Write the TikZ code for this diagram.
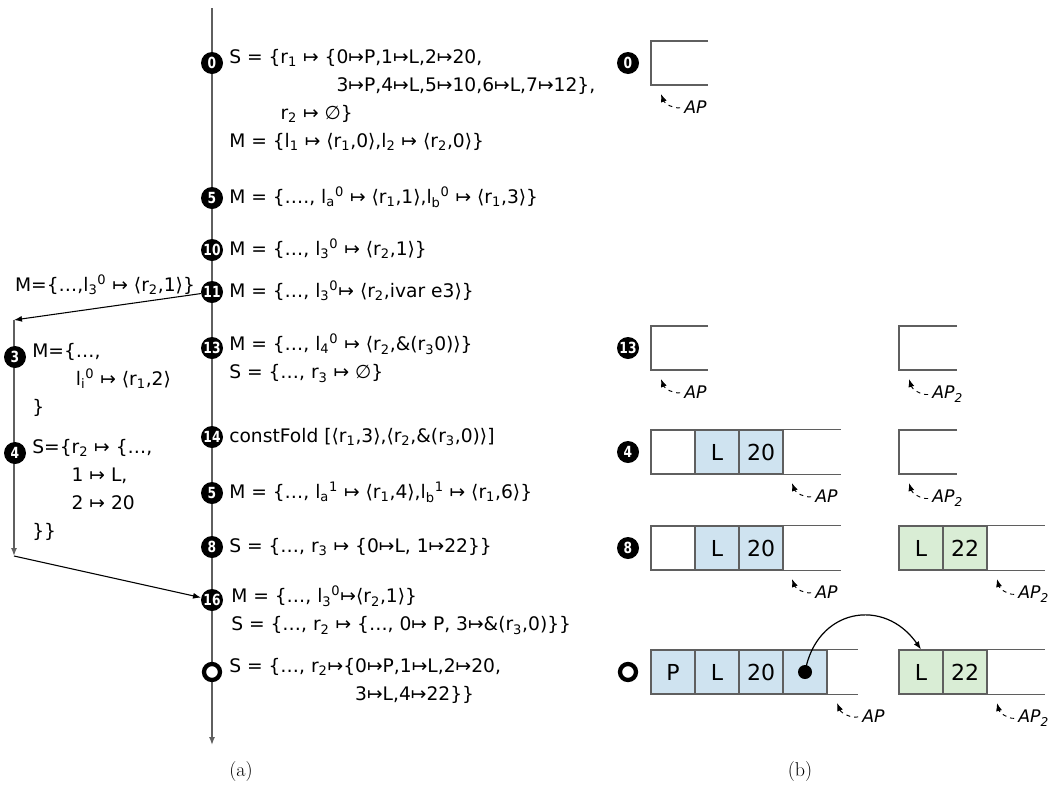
\documentclass[tikz,border=0pt]{standalone}
\usepackage{fontspec}
\usetikzlibrary{arrows.meta}
\newfontfamily\dejavu{DejaVu Sans}
\newfontfamily\dvnum[FakeStretch=0.8]{DejaVu Sans}
\definecolor{cellblue}{RGB}{207,227,240}
\definecolor{cellgreen}{RGB}{217,237,213}
\definecolor{linegray}{RGB}{95,95,95}
\newcommand{\lsub}[1]{\textsubscript{#1}}
\newcommand{\lsup}[1]{\textsuperscript{#1}}
\tikzset{
  stepnum/.style={circle,fill=black,text=white,inner sep=0pt,minimum size=16.5pt,font=\dvnum\bfseries\fontsize{11.5}{11.5}\selectfont},
  stepend/.style={circle,draw=black,fill=white,line width=3.2pt,inner sep=0pt,minimum size=12pt},
  statetext/.style={align=left,inner sep=0pt,font=\dejavu\fontsize{14}{21}\selectfont},
  state/.style={statetext,anchor=north west,execute at begin node=\strut},
  cell/.style={draw=linegray,line width=0.9pt,minimum size=33pt,inner sep=0pt,font=\dejavu\fontsize{16.5}{16.5}\selectfont},
  boxline/.style={draw=linegray,line width=0.9pt},
  aplabel/.style={anchor=west,inner sep=0pt,font=\dejavu\itshape\fontsize{13}{13}\selectfont},
  aparrow/.style={->,dashed,line width=0.7pt,bend left=40,shorten <=3pt}
}
\begin{document}
\begin{tikzpicture}[x=0.75pt,y=-0.75pt,>={Latex[length=6pt,width=4.5pt]}]
  \useasboundingbox (0,0) rectangle (1062,786);

  \coordinate (tTop) at (212,8);
  \coordinate (tEnd) at (212,745);
  \draw[->,linegray,line width=1.1pt] (tTop) -- (tEnd);

  \node[stepnum] (s0) at (212,63) {0};
  \node[stepnum] (s5a) at (212,198) {5};
  \node[stepnum] (s10) at (212,250) {10};
  \node[stepnum] (s11) at (212,292) {11};
  \node[stepnum] (s13) at (212,348) {13};
  \node[stepnum] (s14) at (212,437) {14};
  \node[stepnum] (s5b) at (212,493) {5};
  \node[stepnum] (s8) at (212,547) {8};
  \node[stepnum] (s16) at (212,600) {16};
  \node[stepend] (sE) at (212,672) {};

  \node[state] (t0) at (229,49) {S = \{r\lsub{1} ↦ \{0↦P,1↦L,2↦20,\\
    \phantom{S = \{r\lsub{1} ↦ \{}3↦P,4↦L,5↦10,6↦L,7↦12\},\\
    \phantom{S = \{}r\lsub{2} ↦ ∅\}\\
    M = \{l\lsub{1} ↦ ⟨r\lsub{1},0⟩,l\lsub{2} ↦ ⟨r\lsub{2},0⟩\}};
  \node[state] (t5a) at (229,184) {M = \{…., l\lsub{a}\lsup{0} ↦ ⟨r\lsub{1},1⟩,l\lsub{b}\lsup{0} ↦ ⟨r\lsub{1},3⟩\}};
  \node[state] (t10) at (229,236) {M = \{…, l\lsub{3}\lsup{0} ↦ ⟨r\lsub{2},1⟩\}};
  \node[state] (t11) at (229,278) {M = \{…, l\lsub{3}\lsup{0}↦ ⟨r\lsub{2},ivar e3⟩\}};
  \node[state] (t13) at (229,334) {M = \{…, l\lsub{4}\lsup{0} ↦ ⟨r\lsub{2},\&(r\lsub{3}0)⟩\}\\
    S = \{…, r\lsub{3} ↦ ∅\}};
  \node[state] (t14) at (229,423) {constFold [⟨r\lsub{1},3⟩,⟨r\lsub{2},\&(r\lsub{3},0)⟩]};
  \node[state] (t5b) at (229,479) {M = \{…, l\lsub{a}\lsup{1} ↦ ⟨r\lsub{1},4⟩,l\lsub{b}\lsup{1} ↦ ⟨r\lsub{1},6⟩\}};
  \node[state] (t8) at (229,533) {S = \{…, r\lsub{3} ↦ \{0↦L, 1↦22\}\}};
  \node[state] (t16) at (231,586) {M = \{…, l\lsub{3}\lsup{0}↦⟨r\lsub{2},1⟩\}\\
    S = \{…, r\lsub{2} ↦ \{…, 0↦ P, 3↦\&(r\lsub{3},0)\}\}};
  \node[state] (tE) at (229,658) {S = \{…, r\lsub{2}↦\{0↦P,1↦L,2↦20,\\
    \phantom{S = \{…, r\lsub{2}↦\{}3↦L,4↦22\}\}};

  \coordinate (bTop) at (14,320);
  \coordinate (bBot) at (14,556);
  \draw[->,line width=0.8pt] (s11) -- (bTop);
  \node[statetext] (lblBranch) at (105,285) {M=\{…,l\lsub{3}\lsup{0} ↦ ⟨r\lsub{2},1⟩\}};
  \draw[->,linegray,line width=1.1pt] (bTop) -- (bBot);
  \draw[->,line width=0.8pt] (bBot) -- (s16);

  \node[stepnum] (b3) at (15,357) {3};
  \node[stepnum] (b4) at (15,453) {4};
  \node[state] (tb3) at (32,343) {M=\{…,\\
    \phantom{M=\{}l\lsub{i}\lsup{0} ↦ ⟨r\lsub{1},2⟩\\
    \}};
  \node[state] (tb4) at (32,439) {S=\{r\lsub{2} ↦ \{…,\\
    \phantom{S=\{}1 ↦ L,\\
    \phantom{S=\{}2 ↦ 20\\
    \}\}};

  \node[stepnum] (r0) at (628,63) {0};
  \draw[boxline] (708,41) -- (651,41) -- (651,85) -- (708,85);
  \node[aplabel] (ap0) at (684,107) {AP};
  \coordinate (ap0tip) at (661,94);
  \draw[aparrow] (ap0.west) to (ap0tip);

  \node[stepnum] (r13) at (628,348) {13};
  \draw[boxline] (708,326) -- (651,326) -- (651,370) -- (708,370);
  \node[aplabel] (ap13) at (684,392) {AP};
  \coordinate (ap13tip) at (661,379);
  \draw[aparrow] (ap13.west) to (ap13tip);
  \draw[boxline] (957,326) -- (899,326) -- (899,370) -- (957,370);
  \node[aplabel] (apb13) at (932,394) {AP\lsub{2}};
  \coordinate (apb13tip) at (909,379);
  \draw[aparrow] (apb13.west) to (apb13tip);

  \node[stepnum] (r4) at (628,452) {4};
  \node[cell] (c4a) at (673,452) {};
  \node[cell,fill=cellblue] (c4b) at (717,452) {L};
  \node[cell,fill=cellblue] (c4c) at (761,452) {20};
  \draw[boxline] (c4c.north east) -- ++(57,0);
  \draw[boxline] (c4c.south east) -- ++(57,0);
  \node[aplabel] (ap4) at (815,496) {AP};
  \coordinate (ap4tip) at (792,483);
  \draw[aparrow] (ap4.west) to (ap4tip);
  \draw[boxline] (957,430) -- (899,430) -- (899,474) -- (957,474);
  \node[aplabel] (apb4) at (932,498) {AP\lsub{2}};
  \coordinate (apb4tip) at (909,483);
  \draw[aparrow] (apb4.west) to (apb4tip);

  \node[stepnum] (r8) at (628,548) {8};
  \node[cell] (c8a) at (673,548) {};
  \node[cell,fill=cellblue] (c8b) at (717,548) {L};
  \node[cell,fill=cellblue] (c8c) at (761,548) {20};
  \draw[boxline] (c8c.north east) -- ++(57,0);
  \draw[boxline] (c8c.south east) -- ++(57,0);
  \node[aplabel] (ap8) at (815,592) {AP};
  \coordinate (ap8tip) at (792,579);
  \draw[aparrow] (ap8.west) to (ap8tip);
  \node[cell,fill=cellgreen] (g8a) at (921,548) {L};
  \node[cell,fill=cellgreen] (g8b) at (965,548) {22};
  \draw[boxline] (g8b.north east) -- ++(57,0);
  \draw[boxline] (g8b.south east) -- ++(57,0);
  \node[aplabel] (apb8) at (1018,594) {AP\lsub{2}};
  \coordinate (apb8tip) at (997,579);
  \draw[aparrow] (apb8.west) to (apb8tip);

  \node[stepend] (rE) at (628,672) {};
  \node[cell,fill=cellblue] (cEa) at (673,672) {P};
  \node[cell,fill=cellblue] (cEb) at (717,672) {L};
  \node[cell,fill=cellblue] (cEc) at (761,672) {20};
  \node[cell,fill=cellblue] (cEd) at (805,672) {};
  \draw[boxline] (cEd.north east) -- ++(30,0);
  \draw[boxline] (cEd.south east) -- ++(30,0);
  \node[circle,fill=black,inner sep=0pt,minimum size=10.5pt] (dotE) at (cEd) {};
  \node[aplabel] (apE) at (862,716) {AP};
  \coordinate (apEtip) at (837,703);
  \draw[aparrow] (apE.west) to (apEtip);
  \node[cell,fill=cellgreen] (gEa) at (921,672) {L};
  \node[cell,fill=cellgreen] (gEb) at (965,672) {22};
  \draw[boxline] (gEb.north east) -- ++(57,0);
  \draw[boxline] (gEb.south east) -- ++(57,0);
  \node[aplabel] (apbE) at (1018,718) {AP\lsub{2}};
  \coordinate (apbEtip) at (997,703);
  \draw[aparrow] (apbE.west) to (apbEtip);
  \draw[->,line width=0.9pt] (dotE.center) to[out=80,in=125,looseness=1.4] (gEa.north);

  \node[font=\fontsize{15}{15}\selectfont] (capA) at (241,771) {(a)};
  \node[font=\fontsize{15}{15}\selectfont] (capB) at (800,771) {(b)};
\end{tikzpicture}
\end{document}
